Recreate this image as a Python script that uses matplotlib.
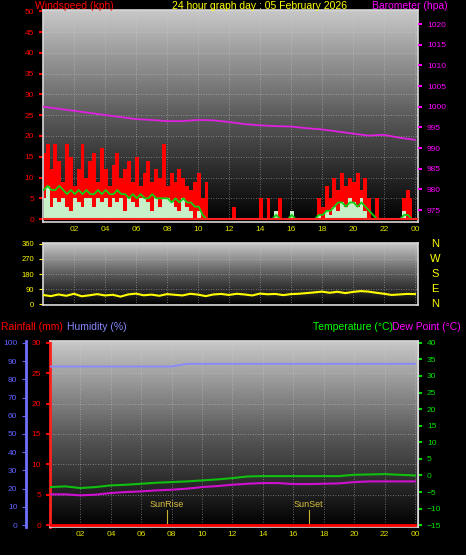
import numpy as np
import matplotlib
matplotlib.use("Agg")
import matplotlib.pyplot as plt
plt.rcParams['font.family'] = ['Liberation Sans', 'DejaVu Sans']

gust = [16,18,12,18,14,9,18,15, 8,12,18,10,14,16,9,17, 12,8,13,16,10,12,14,9, 15,8,11,14,9,12,10,18, 8,11,9,12,10,8,7,9,
        11,5,9,0,0,0,0,0, 0,3,0,0,0,0,0,0, 5,0,5,0,0,5,0,0, 0,0,0,0,0,0,0,5,
        3,8,5,10,7,11,8,10, 9,11,7,10,5,0,5,0, 0,0,0,0,0,5,7,5]
avg = [7,8,7,7,8,7,6,7, 6,7,6,7,6,6,7,6, 7,6,6,7,6,6,5,6, 5,6,5,5,6,5,5,5, 5,4,5,4,5,4,4,3,
       3,1,0,0,0,0,0,0, 0,0,0,0,0,0,0,0, 0,0,0,0,1,0,0,0, 1,0,0,0,0,0,0,1,
       1,2,2,3,4,4,3,4, 4,3,4,3,2,1,0,0, 0,0,0,0,0,1,1,0]
speed = [5,8,3,5,4,5,3,2, 5,4,3,5,5,3,5,4, 5,3,5,4,5,2,5,4, 3,5,5,4,2,5,3,5, 5,4,3,2,5,3,2,0,
         2,0,0,0,0,0,0,0, 0,0,0,0,0,0,0,0, 0,0,0,0,2,0,0,0, 2,0,0,0,0,0,0,1,
         0,2,1,3,2,4,3,5, 4,3,5,2,0,0,0,0, 0,0,0,0,0,2,0,0]
baro = [1000,999.5,999,998.5,998,997.5,997,996.8,996.5,996.5,996.8,996.7,996.3,995.8,995.5,995.3,
        995.2,994.8,994.5,994,993.5,993,993.2,992.5,992]
wdir = [55,48,58,50,62,47,53,60,52,56,45,58,63,53,57,50,60,56,52,62,57,48,58,61,
        55,62,58,52,63,59,61,54,60,62,66,70,75,68,74,66,73,78,75,68,62,55,58,61,60]
temp = [-3.5,-3.3,-3.8,-3.5,-3,-2.8,-2.5,-2.2,-2,-1.8,-1.5,-1.2,-0.8,-0.3,-0.2,-0.2,-0.2,-0.2,-0.2,-0.2,0.2,0.3,0.4,0.2,0]
dew = [-5.7,-5.7,-6,-5.8,-5.3,-5,-4.8,-4.5,-4.3,-4,-3.5,-3.2,-2.8,-2.5,-2.3,-2.3,-2.6,-2.6,-2.5,-2.4,-2,-1.8,-1.8,-1.8,-1.8]
hum = [87]*9 + [88.5]*16
rain = [0]*25
xlabels = ['02','04','06','08','10','12','14','16','18','20','22','00']

t15 = np.arange(len(gust))*0.25 + 0.05
th = np.arange(25)*1.0
th[0] = 0.05
thalf = np.arange(len(wdir))*0.5

fig = plt.figure(figsize=(4.66,5.55), dpi=100, facecolor='black')
grad = np.linspace(0,1,256).reshape(-1,1)
cm = matplotlib.colors.LinearSegmentedColormap.from_list('g',['#000000','#5a5a5a','#c8c8c8'])

def bg(ax):
    ax.set_facecolor('black')
    ax.imshow(grad, cmap=cm, extent=[0,1,0,1], transform=ax.transAxes, aspect='auto', origin='lower', zorder=0)
    ax.grid(True, color='#d0d0d0', linestyle=(0,(1,2)), linewidth=0.6, alpha=0.6)
    for s in ax.spines.values():
        s.set_color('#d8d8d8'); s.set_linewidth(1.2)
    ax.set_xlim(0,24.2)
    ax.set_xticks(np.arange(2,25,2))

ax1 = fig.add_axes([43/466, 1-222/555, 375/466, 212/555])
bg(ax1)
ax1.set_ylim(-0.7,50.3)
ax1.fill_between(t15, gust, step='mid', color='#ff0000', zorder=2, lw=0)
ax1.fill_between(t15, speed, step='mid', color='#c8f0c8', zorder=3, lw=0)
ax1.plot(t15, avg, color='#10d010', lw=1.3, zorder=4)
ax1.axhline(0, color='#ff2020', lw=1.5, zorder=4)
ax1.set_yticks(range(0,51,5))
ax1.set_xticklabels(xlabels, color='#e0e000', fontsize=6)
ax1.tick_params(axis='y', colors='#ff0000', labelsize=6, length=3, width=1.5)
ax1.tick_params(axis='x', colors='#e0e000', length=0, pad=3)
ax1b = ax1.twinx()
ax1b.set_ylim(972.1,1023.4)
ax1b.plot(th, baro, color='#e020e0', lw=1.3, zorder=5)
ax1b.set_yticks(range(975,1021,5))
ax1b.tick_params(axis='y', colors='#ff00ff', labelsize=6, length=3, width=1.5)
for s in ax1b.spines.values(): s.set_visible(False)
fig.text(35/466, 1-6/555, 'Windspeed (kph)', color='#ff0000', fontsize=7.5, va='center')
fig.text(172/466, 1-6/555, '24 hour graph day : 05 February 2026', color='#ffff00', fontsize=7.5, va='center')
fig.text(372/466, 1-6/555, 'Barometer (hpa)', color='#ff00ff', fontsize=7.5, va='center')

ax2 = fig.add_axes([43/466, 1-305/555, 375/466, 62/555])
bg(ax2)
ax2.set_ylim(-5,365)
ax2.plot(thalf, wdir, color='#ffff00', lw=1.5, zorder=3)
ax2.set_yticks([0,90,180,270,360])
ax2.set_xticklabels([])
ax2.tick_params(axis='x', length=0)
ax2.tick_params(axis='y', colors='#ffff00', labelsize=5.5, length=3)
for lab, y in zip(['N','W','S','E','N'], [360,270,180,90,0]):
    ax2.text(1.045, (y+5)/370, lab, transform=ax2.transAxes, color='#ffff00', fontsize=8, va='center', ha='center')

ax3 = fig.add_axes([50/466, 1-527/555, 368/466, 186/555])
bg(ax3)
ax3.set_ylim(-0.3,30.3)
ax3.plot(th, rain, color='#ff0000', lw=2, zorder=5)
ax3.set_yticks(range(0,31,5))
ax3.tick_params(axis='y', colors='#ff0000', labelsize=6, length=3, width=1.5)
ax3.spines['left'].set_color('#ff2020'); ax3.spines['left'].set_linewidth(2)
ax3.set_xticklabels(xlabels, color='#e0e000', fontsize=6)
ax3.tick_params(axis='x', colors='#e0e000', length=0, pad=3)
for xs, lab in [(7.7,'SunRise'),(17.0,'SunSet')]:
    ax3.plot([xs,xs],[0,2.5], color='#c8b030', lw=0.8, zorder=4)
    ax3.text(xs, 3.0, lab, color='#d8c040', fontsize=6.5, ha='center', zorder=4)
axh = ax3.twinx()
axh.yaxis.tick_left(); axh.yaxis.set_label_position('left')
axh.spines['left'].set_position(('outward', 17))
axh.spines['left'].set_visible(True); axh.spines['left'].set_color('#7070ff'); axh.spines['left'].set_linewidth(2)
for k in ['right','top','bottom']: axh.spines[k].set_visible(False)
axh.set_ylim(-1,101)
axh.plot(th, hum, color='#8888ff', lw=1.3)
axh.set_yticks(range(0,101,10))
axh.tick_params(axis='y', colors='#6060ff', labelsize=6, length=3)
axt = ax3.twinx()
for k in ['left','top','bottom']: axt.spines[k].set_visible(False)
axt.spines['right'].set_color('#d8d8d8')
axt.set_ylim(-15.55,40.55)
axt.plot(th, temp, color='#10c010', lw=1.5)
axt.plot(th, dew, color='#d010d0', lw=1.5)
axt.set_yticks(range(-15,41,5))
axt.tick_params(axis='y', colors='#00e000', labelsize=6, length=3, width=1.5)
fig.text(1/466, 1-327/555, 'Rainfall (mm)', color='#ff0000', fontsize=7.5, va='center')
fig.text(67/466, 1-327/555, 'Humidity (%)', color='#8888ff', fontsize=7.5, va='center')
fig.text(313/466, 1-327/555, 'Temperature (°C)', color='#00ff00', fontsize=7.5, va='center')
fig.text(392/466, 1-327/555, 'Dew Point (°C)', color='#ff00ff', fontsize=7.5, va='center')

fig.savefig('out.png', dpi=100, facecolor='black')
